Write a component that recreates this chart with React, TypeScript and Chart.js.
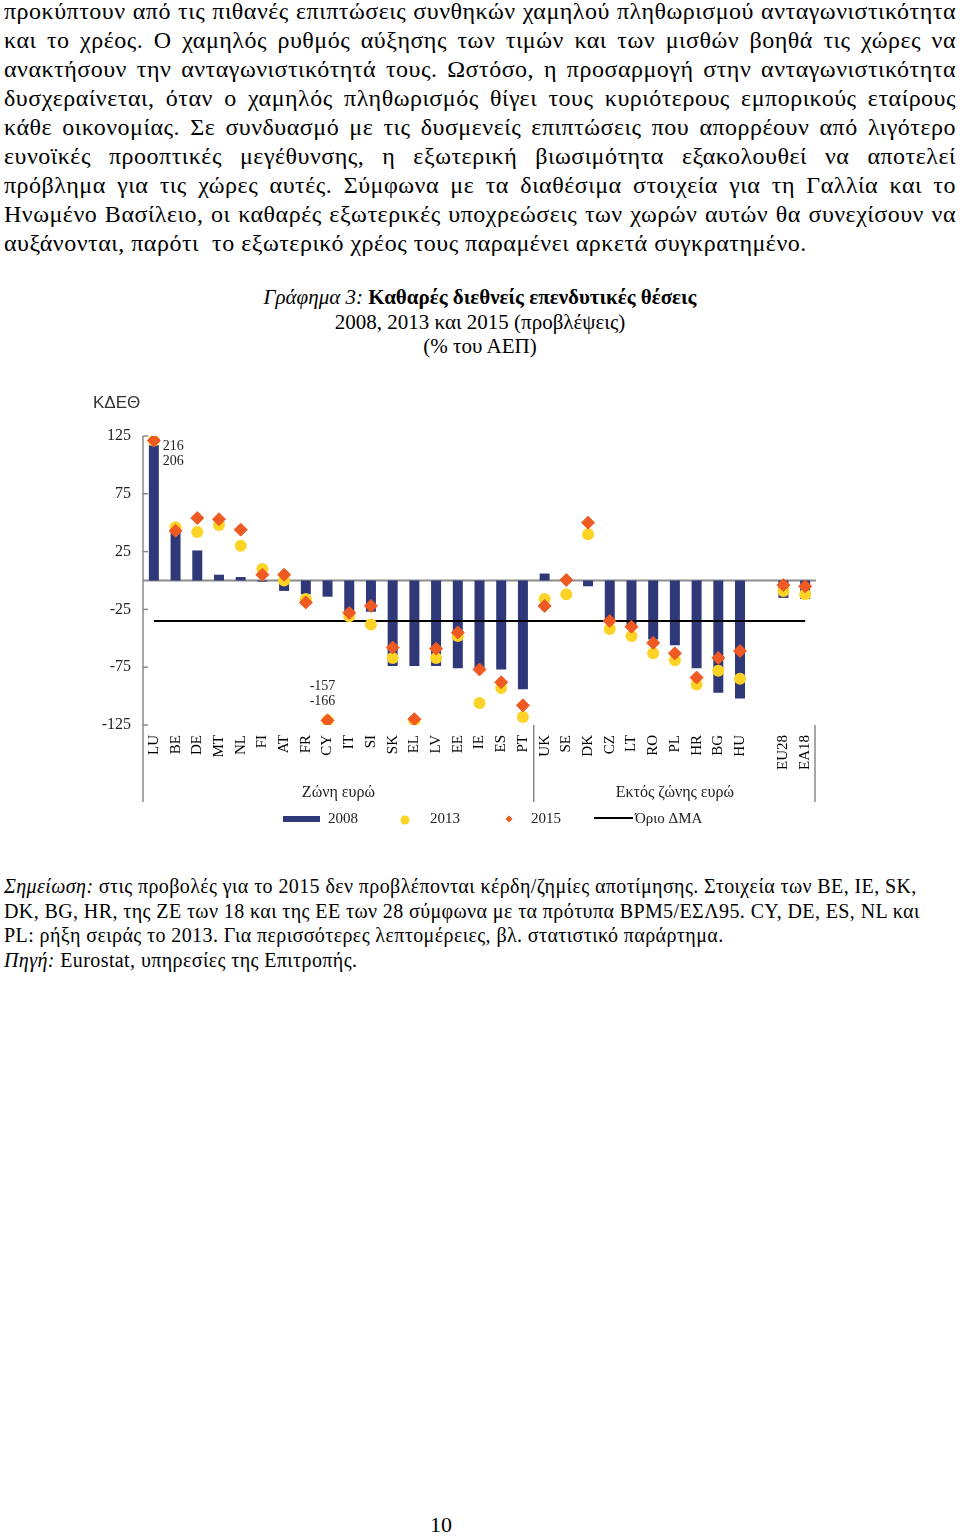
import React, { useEffect, useRef } from 'react';
import { Chart, registerables } from 'chart.js';

Chart.register(...registerables);

// ---------- data ----------
const categories = ['LU', 'BE', 'DE', 'MT', 'NL', 'FI', 'AT', 'FR', 'CY', 'IT', 'SI', 'SK', 'EL', 'LV', 'EE', 'IE', 'ES', 'PT',
  'UK', 'SE', 'DK', 'CZ', 'LT', 'RO', 'PL', 'HR', 'BG', 'HU', '', 'EU28', 'EA18'];
const niip2008 = [117, 41, 26, 5, 3, -1, -9, -12, -14, -31, -27, -74, -74, -74, -76, -77, -77, -94,
  6, 0, -5, -34, -41, -51, -56, -76, -97, -102, null, -15, -16];
const niip2013 = [206, 46, 42, 48, 30, 10, 0, -16, -157, -31, -38, -67, -121, -67, -48, -106, -93, -118,
  -16, -12, 40, -42, -48, -63, -69, -90, -78, -85, null, -9, -12];
const niip2015 = [216, 43, 54, 53, 44, 5, 5, -19, -166, -28, -22, -58, -120, -59, -45, -77, -88, -108,
  -22, 0.5, 50, -35, -40, -54, -63, -84, -67, -61, null, -4, -5];
const mipThreshold = -35;
const yTicks = [125, 75, 25, -25, -75, -125];
const displayLimit = 121;
const groupLabels = ['Ζώνη ευρώ', 'Εκτός ζώνης ευρώ'];
const groupBreakIndex = 17; // after PT
const legendLabels = ['2008', '2013', '2015', 'Όριο ΔΜΑ'];
const axisTitle = 'ΚΔΕΘ';

const paragraphLines = [
  'προκύπτουν από τις πιθανές επιπτώσεις συνθηκών χαμηλού πληθωρισμού ανταγωνιστικότητα',
  'και το χρέος. Ο χαμηλός ρυθμός αύξησης των τιμών και των μισθών βοηθά τις χώρες να',
  'ανακτήσουν την ανταγωνιστικότητά τους. Ωστόσο, η προσαρμογή στην ανταγωνιστικότητα',
  'δυσχεραίνεται, όταν ο χαμηλός πληθωρισμός θίγει τους κυριότερους εμπορικούς εταίρους',
  'κάθε οικονομίας. Σε συνδυασμό με τις δυσμενείς επιπτώσεις που απορρέουν από λιγότερο',
  'ευνοϊκές προοπτικές μεγέθυνσης, η εξωτερική βιωσιμότητα εξακολουθεί να αποτελεί',
  'πρόβλημα για τις χώρες αυτές. Σύμφωνα με τα διαθέσιμα στοιχεία για τη Γαλλία και το',
  'Ηνωμένο Βασίλειο, οι καθαρές εξωτερικές υποχρεώσεις των χωρών αυτών θα συνεχίσουν να',
  'αυξάνονται, παρότι  το εξωτερικό χρέος τους παραμένει αρκετά συγκρατημένο.',
];

const NAVY = '#2f3878';
const YELLOW = '#fdd325';
const ORANGE = '#ee5a22';
const SERIF = '"Liberation Serif", "Times New Roman", serif';

const clamp = (v: number | null) => (v === null ? null : Math.max(-displayLimit, Math.min(displayLimit, v)));

const overlayPlugin = {
  id: 'overlay',
  beforeDatasetsDraw(chart: any) {
    const { ctx, chartArea, scales } = chart;
    const { left, right, top, bottom } = chartArea;
    const y = scales.y;
    const x = scales.x;
    ctx.save();
    // zero line
    const y0 = y.getPixelForValue(0);
    ctx.strokeStyle = '#8c8c8c';
    ctx.lineWidth = 2;
    ctx.beginPath();
    ctx.moveTo(left, y0);
    ctx.lineTo(right, y0);
    ctx.stroke();
    // left axis line (extends through category labels)
    ctx.lineWidth = 1.5;
    ctx.strokeStyle = '#8a8a8a';
    ctx.beginPath();
    ctx.moveTo(left, top);
    ctx.lineTo(left, bottom + 77);
    ctx.stroke();
    // inward tick marks
    yTicks.forEach((v) => {
      const py = y.getPixelForValue(v);
      ctx.beginPath();
      ctx.moveTo(left, py);
      ctx.lineTo(left + 5, py);
      ctx.stroke();
    });
    // group separators
    const sepX = (x.getPixelForValue(groupBreakIndex) + x.getPixelForValue(groupBreakIndex + 1)) / 2;
    ctx.strokeStyle = '#777';
    ctx.lineWidth = 1.3;
    [sepX, right - 1].forEach((sx) => {
      ctx.beginPath();
      ctx.moveTo(sx, bottom);
      ctx.lineTo(sx, bottom + 77);
      ctx.stroke();
    });
    ctx.restore();
  },
  afterDatasetsDraw(chart: any) {
    const { ctx, chartArea, scales } = chart;
    const { left, right, top, bottom } = chartArea;
    const x = scales.x;
    ctx.save();
    // axis title
    ctx.fillStyle = '#333';
    ctx.font = '17px "Liberation Sans", Arial, sans-serif';
    ctx.textAlign = 'left';
    ctx.textBaseline = 'middle';
    ctx.fillText(axisTitle, left - 50, top - 33);

    // group labels
    const sepX = (x.getPixelForValue(groupBreakIndex) + x.getPixelForValue(groupBreakIndex + 1)) / 2;
    ctx.font = `16px ${SERIF}`;
    ctx.fillStyle = '#222';
    ctx.textAlign = 'center';
    ctx.fillText(groupLabels[0], (left + sepX) / 2, bottom + 68);
    ctx.fillText(groupLabels[1], (sepX + right) / 2, bottom + 68);

    // call-out labels for values beyond the axis range
    ctx.font = `14px ${SERIF}`;
    ctx.fillStyle = '#222';
    const m13 = chart.getDatasetMeta(2);
    categories.forEach((_, i) => {
      const a = niip2013[i];
      const b = niip2015[i];
      if (a === null || b === null) return;
      if (Math.abs(a) <= 125 && Math.abs(b) <= 125) return;
      const pt = m13.data[i];
      const vals = [a, b].sort((p, q) => q - p).map((v) => String(v));
      if (a > 0) {
        ctx.textAlign = 'left';
        ctx.fillText(vals[0], pt.x + 9, pt.y + 6);
        ctx.fillText(vals[1], pt.x + 9, pt.y + 21);
      } else {
        ctx.textAlign = 'center';
        ctx.fillText(vals[0], pt.x - 5, pt.y - 34);
        ctx.fillText(vals[1], pt.x - 5, pt.y - 19);
      }
    });

    // legend
    const ly = bottom + 94;
    ctx.font = `15px ${SERIF}`;
    ctx.textAlign = 'left';
    ctx.textBaseline = 'middle';
    ctx.fillStyle = NAVY;
    ctx.fillRect(203, ly - 3, 37, 6);
    ctx.fillStyle = '#222';
    ctx.fillText(legendLabels[0], 248, ly);
    ctx.fillStyle = YELLOW;
    ctx.beginPath();
    ctx.arc(325, ly + 1, 4.5, 0, Math.PI * 2);
    ctx.fill();
    ctx.fillStyle = '#222';
    ctx.fillText(legendLabels[1], 350, ly);
    ctx.fillStyle = ORANGE;
    ctx.beginPath();
    ctx.moveTo(429, ly - 3.5);
    ctx.lineTo(432.5, ly);
    ctx.lineTo(429, ly + 3.5);
    ctx.lineTo(425.5, ly);
    ctx.closePath();
    ctx.fill();
    ctx.fillStyle = '#222';
    ctx.fillText(legendLabels[2], 451, ly);
    ctx.strokeStyle = '#000';
    ctx.lineWidth = 2;
    ctx.beginPath();
    ctx.moveTo(514, ly - 1);
    ctx.lineTo(553, ly - 1);
    ctx.stroke();
    ctx.fillText(legendLabels[3], 555, ly);
    ctx.restore();
  },
};

function NiipChart() {
  const ref = useRef<HTMLCanvasElement | null>(null);
  useEffect(() => {
    if (!ref.current) return;
    const chart = new Chart(ref.current, {
      type: 'bar',
      data: {
        labels: categories,
        datasets: [
          {
            type: 'bar',
            label: '2008',
            data: niip2008,
            backgroundColor: NAVY,
            barPercentage: 0.46,
            categoryPercentage: 1,
            order: 4,
          },
          {
            type: 'line',
            label: 'Όριο ΔΜΑ',
            data: categories.map(() => mipThreshold),
            borderColor: '#000',
            borderWidth: 2,
            pointRadius: 0,
            fill: false,
            order: 3,
          },
          {
            type: 'line',
            label: '2013',
            data: niip2013.map(clamp),
            showLine: false,
            pointStyle: 'circle',
            pointRadius: 6,
            pointBackgroundColor: YELLOW,
            pointBorderColor: YELLOW,
            pointBorderWidth: 0,
            order: 2,
          },
          {
            type: 'line',
            label: '2015',
            data: niip2015.map(clamp),
            showLine: false,
            pointStyle: 'rectRot',
            pointRadius: 6.5,
            pointBackgroundColor: ORANGE,
            pointBorderColor: ORANGE,
            pointBorderWidth: 1,
            order: 1,
          },
        ] as any,
      },
      options: {
        animation: false,
        responsive: false,
        devicePixelRatio: 1,
        layout: { padding: { top: 56, right: 24, left: 0, bottom: 0 } },
        plugins: { legend: { display: false }, tooltip: { enabled: false } },
        scales: {
          x: {
            offset: true,
            grid: { display: false, drawTicks: false },
            border: { display: false },
            ticks: {
              autoSkip: false,
              minRotation: 90,
              maxRotation: 90,
              padding: 10,
              color: '#000',
              font: { family: SERIF, size: 15 },
            },
            afterFit: (s: any) => { s.height = 115; },
          },
          y: {
            min: -125,
            max: 125,
            grid: { display: false, drawTicks: false },
            border: { display: false },
            afterBuildTicks: (s: any) => { s.ticks = yTicks.map((v) => ({ value: v })); },
            ticks: {
              padding: 12,
              color: '#222',
              font: { family: SERIF, size: 16 },
            },
            afterFit: (s: any) => { s.width = 63; },
          },
        },
      },
      plugins: [overlayPlugin],
    });
    return () => chart.destroy();
  }, []);
  return (
    <canvas
      ref={ref}
      width={760}
      height={460}
      style={{ position: 'absolute', left: 80, top: 380, width: 760, height: 460 }}
    />
  );
}

export default function App() {
  return (
    <div style={{ position: 'absolute', left: 0, top: 0, width: 960, height: 1537, background: '#fff', fontFamily: SERIF, color: '#000' }}>
      <div style={{ position: 'absolute', left: 4, top: -3, width: 952, fontSize: 24, letterSpacing: 0.5, lineHeight: '29px' }}>
        {paragraphLines.map((l, i) => (
          <div
            key={i}
            style={{
              whiteSpace: 'pre',
              textAlign: i < paragraphLines.length - 1 ? 'justify' : 'left',
              textAlignLast: i < paragraphLines.length - 1 ? 'justify' : 'left',
            }}
          >
            {l}
          </div>
        ))}
      </div>
      <div style={{ position: 'absolute', left: 0, top: 285, width: 960, textAlign: 'center', fontSize: 21, lineHeight: '24.5px' }}>
        <div><i>Γράφημα 3:</i> <b>Καθαρές διεθνείς επενδυτικές θέσεις</b></div>
        <div>2008, 2013 και 2015 (προβλέψεις)</div>
        <div>(% του ΑΕΠ)</div>
      </div>
      <NiipChart />
      <div style={{ position: 'absolute', left: 4, top: 874, width: 952, fontSize: 20, letterSpacing: 0.4, lineHeight: '24.5px' }}>
        <div><i>Σημείωση:</i> στις προβολές για το 2015 δεν προβλέπονται κέρδη/ζημίες αποτίμησης. Στοιχεία των BE, IE, SK,</div>
        <div>DK, BG, HR, της ΖΕ των 18 και της ΕΕ των 28 σύμφωνα με τα πρότυπα BPM5/ΕΣΛ95. CY, DE, ES, NL και</div>
        <div>PL: ρήξη σειράς το 2013. Για περισσότερες λεπτομέρειες, βλ. στατιστικό παράρτημα.</div>
        <div><i>Πηγή:</i> Eurostat, υπηρεσίες της Επιτροπής.</div>
      </div>
      <div style={{ position: 'absolute', left: 0, top: 1512, width: 882, textAlign: 'center', fontSize: 22 }}>10</div>
    </div>
  );
}
